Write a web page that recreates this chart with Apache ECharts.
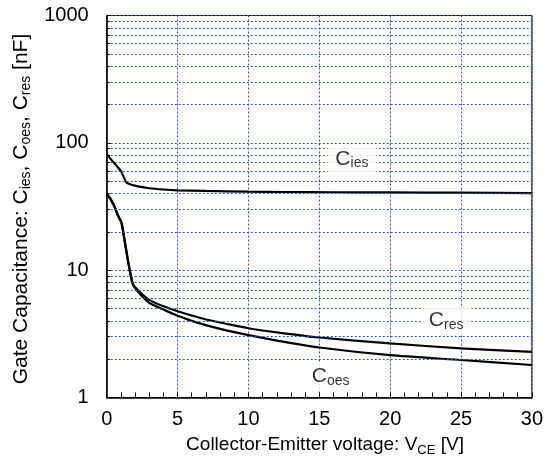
<!DOCTYPE html>
<html><head><meta charset="utf-8">
<script src="https://cdn.jsdelivr.net/npm/echarts@6/dist/echarts.min.js"></script>
<style>html,body{margin:0;padding:0;background:#fff}#c{width:546px;height:474px}</style>
</head><body><div id="c"></div>
<script>
// ---- data ----
const ciesX = [0, 0.35, 0.7, 1.04, 1.38, 1.7, 2.2, 3, 4, 5, 7, 10, 12.6, 16, 20, 25, 30];
const ciesY = [82, 73, 66, 59, 49, 47, 45.5, 44, 43, 42.4, 41.9, 41.4, 41.1, 40.9, 40.8, 40.6, 40.3];
const cresX = [0, 0.3, 0.57, 0.8, 1.04, 1.27, 1.5, 1.84, 2.3, 3, 4, 5, 6, 7, 8.5, 10, 12, 15, 20, 25, 30];
const cresY = [39.8, 36, 31.3, 27, 23.9, 17.1, 12.0, 7.85, 6.8, 5.85, 5.2, 4.76, 4.4, 4.1, 3.78, 3.5, 3.25, 2.96, 2.66, 2.43, 2.28];
const coesX = [0, 0.3, 0.57, 0.8, 1.04, 1.27, 1.5, 1.84, 2.3, 3, 4, 5, 6, 7, 8.5, 10, 12, 15, 20, 25, 30];
const coesY = [39.5, 35.5, 31, 26.6, 23.6, 16.8, 11.8, 7.75, 6.6, 5.55, 4.9, 4.38, 4.0, 3.7, 3.35, 3.09, 2.8, 2.47, 2.15, 1.97, 1.80];
const xTicks = [0, 5, 10, 15, 20, 25, 30];
const yTicks = [1, 10, 100, 1000];
const yMinor = [2,3,4,5,6,7,8,9,20,30,40,50,60,70,80,90,200,300,400,500,600,700,800,900];
const labels = [
  {name: 'ies', x: 17.3, y: 74},
  {name: 'res', x: 23.95, y: 3.98},
  {name: 'oes', x: 15.8, y: 1.45}
];

const FONT = '"Liberation Sans", Arial, sans-serif';
const GRIDC = '#2a58b0';
const pairs = (xs, ys) => xs.map((x, i) => [x, ys[i]]);

const chart = echarts.init(document.getElementById('c'));
const rich = {
  c: {fontFamily: FONT, fontSize: 21, color: '#000', verticalAlign: 'top', lineHeight: 22},
  s: {fontFamily: FONT, fontSize: 14, color: '#000', verticalAlign: 'bottom', lineHeight: 22, padding: [6, 0, 0, 0]}
};
const richY = {
  t: {fontFamily: FONT, fontSize: 21, color: '#000', verticalAlign: 'top', lineHeight: 22},
  s: {fontFamily: FONT, fontSize: 14, color: '#000', verticalAlign: 'bottom', lineHeight: 22, padding: [6, 0, 0, 0]}
};
const richX = {
  t: {fontFamily: FONT, fontSize: 19, color: '#000', verticalAlign: 'top', lineHeight: 22},
  s: {fontFamily: FONT, fontSize: 13, color: '#000', verticalAlign: 'bottom', lineHeight: 22, padding: [6, 0, 0, 0]}
};

const minorLines = yMinor.map(v => ({yAxis: v}));
const minorTicks = yMinor.map(v => [{coord: [0, v]}, {coord: [0.22, v]}]);

chart.setOption({
  animation: false,
  backgroundColor: '#fff',
  grid: {left: 106.7, right: 5.5, top: 15.5, bottom: 76.5, show: true, borderColor: '#000', borderWidth: 1, backgroundColor: 'transparent'},
  xAxis: {
    type: 'value', min: xTicks[0], max: xTicks[xTicks.length - 1], interval: 5,
    axisLine: {show: true, lineStyle: {color: '#000', width: 1.5}},
    axisTick: {show: true, inside: true, length: 5, lineStyle: {color: '#000'}},
    minorTick: {show: true, splitNumber: 5, length: 5, lineStyle: {color: '#000'}},
    axisLabel: {fontFamily: FONT, fontSize: 20, color: '#000', margin: 12},
    splitLine: {show: true, lineStyle: {color: GRIDC, type: [2, 2], width: 1}}
  },
  yAxis: {
    type: 'log', logBase: 10, min: yTicks[0], max: yTicks[yTicks.length - 1],
    axisLine: {show: true, lineStyle: {color: '#000', width: 1.5}},
    axisTick: {show: true, inside: true, length: 4, lineStyle: {color: '#000'}},
    axisLabel: {fontFamily: FONT, fontSize: 20, color: '#000', margin: 18, formatter: v => String(v)},
    splitLine: {show: true, lineStyle: {color: GRIDC, type: [2, 2], width: 1}}
  },
  graphic: [
    {type: 'text', x: 22, y: 209, rotation: Math.PI / 2, style: {
      text: '{t|Gate Capacitance: C}{s|ies}{t|, C}{s|oes}{t|, C}{s|res}{t| [nF]}',
      rich: richY, align: 'center', verticalAlign: 'middle'}},
    {type: 'text', x: 325, y: 446, style: {
      text: '{t|Collector-Emitter voltage: V}{s|CE}{t| [V]}',
      rich: richX, align: 'center', verticalAlign: 'middle'}}
  ],
  series: [
    {type: 'line', data: [], silent: true, z: 1,
     markLine: {silent: true, symbol: 'none', label: {show: false}, animation: false,
       lineStyle: {color: GRIDC, type: [2, 2], width: 1}, data: minorLines}},
    {type: 'line', data: [], silent: true, z: 1,
     markLine: {silent: true, symbol: 'none', label: {show: false}, animation: false,
       lineStyle: {color: '#000', type: 'solid', width: 1}, data: minorTicks}},
    {type: 'scatter', z: 10, symbolSize: 0, silent: true,
     data: labels.map(l => ({value: [l.x, l.y], label: {formatter: '{c|C}{s|' + l.name + '}'}})),
     label: {show: true, position: 'inside', backgroundColor: '#fff', padding: [3, 8, 3, 8], rich: rich}},
    {name: 'Cies', type: 'line', data: pairs(ciesX, ciesY), showSymbol: false, smooth: 0.2, z: 3,
     lineStyle: {color: '#000', width: 2.2}},
    {name: 'Cres', type: 'line', data: pairs(cresX, cresY), showSymbol: false, smooth: 0.2, z: 3,
     lineStyle: {color: '#000', width: 2.2}},
    {name: 'Coes', type: 'line', data: pairs(coesX, coesY), showSymbol: false, smooth: 0.2, z: 3,
     lineStyle: {color: '#000', width: 2.2}}
  ]
});
</script></body></html>
